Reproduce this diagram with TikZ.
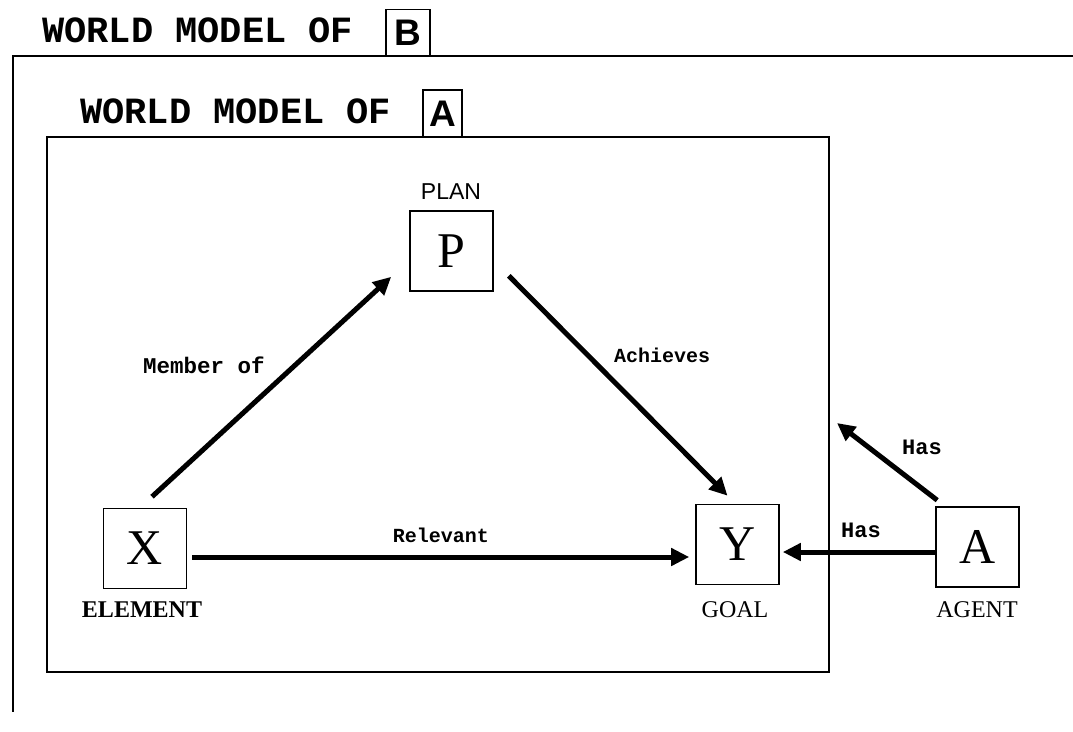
\documentclass[tikz,border=0pt]{standalone}
\usepackage{fontspec}
\setmainfont{Liberation Serif}
\newfontfamily\monob{Liberation Mono}
\newfontfamily\sansf{Liberation Sans}
\usetikzlibrary{arrows.meta}
\begin{document}
\begin{tikzpicture}[x=1pt,y=-1pt,
 frame/.style={line width=1.6pt},
 box/.style={draw,line width=1.6pt,minimum width=83pt,minimum height=80pt,inner sep=0pt,font=\fontsize{50}{50}\selectfont},
 hbox/.style={draw,fill=white,line width=1.6pt,minimum width=44pt,minimum height=46pt,inner sep=0pt,font=\sansf\bfseries\fontsize{37}{37}\selectfont},
 title/.style={font=\monob\bfseries\fontsize{37}{37}\selectfont,inner sep=0pt,anchor=base west},
 capb/.style={font=\bfseries\fontsize{24}{24}\selectfont,inner sep=0pt},
 capr/.style={font=\fontsize{24}{24}\selectfont,inner sep=0pt},
 lbl/.style={font=\monob\bfseries\fontsize{20}{20}\selectfont,inner sep=0pt},
 arr/.style={line width=5pt,-{Triangle[length=18pt,width=17pt]}}]
\useasboundingbox (0,0) rectangle (1073,731);
% outer frame (world model of B)
\draw[frame] (1073,56) -- (13,56) -- (13,712);
\node[title] (tB) at (42,42) {WORLD MODEL OF};
\node[hbox,minimum height=46pt] (hB) at (408,32.5) {B};
% inner frame (world model of A)
\draw[frame] (47,137) rectangle (829,672);
\node[title] (tA) at (80,123) {WORLD MODEL OF};
\node[hbox,minimum width=39pt,minimum height=47pt] (hA) at (442.5,113.5) {A};
% nodes
\node[box] (P) at (451.5,251) {P};
\node[box] (X) at (145,548.5) {X};
\node[box] (Y) at (737.5,544.5) {Y};
\node[box] (A) at (977.5,547) {A};
\node[font=\sansf\fontsize{23}{23}\selectfont,inner sep=0pt] (lP) at (451,192) {PLAN};
\node[capb] (lX) at (142,610) {ELEMENT};
\node[capr] (lY) at (735,610) {GOAL};
\node[capr] (lA) at (977,610) {AGENT};
\coordinate (hasend) at (837,423);
% connectors
\draw[arr] ([xshift=7pt,yshift=11pt]X.north) -- ([xshift=-18pt,yshift=15pt]P.south west);
\draw[arr] ([xshift=15pt,yshift=16pt]P.south east) -- ([xshift=-10pt,yshift=8pt]Y.north);
\draw[arr] ([xshift=5pt,yshift=-8.5pt]X.east) -- ([xshift=-6pt,yshift=-12.5pt]Y.west);
\draw[arr] ([yshift=-5pt]A.west) -- ([xshift=3pt,yshift=-7.5pt]Y.east);
\draw[arr] ([xshift=2pt,yshift=6pt]A.north west) -- (hasend);
% labels
\node[lbl,font=\monob\bfseries\fontsize{22.5}{22.5}\selectfont] (m1) at (204,365) {Member of};
\node[lbl] (m2) at (662,355) {Achieves};
\node[lbl] (m3) at (441,535) {Relevant};
\node[lbl,font=\monob\bfseries\fontsize{22}{22}\selectfont] (m4) at (861,530) {Has};
\node[lbl,font=\monob\bfseries\fontsize{22}{22}\selectfont] (m5) at (922,447) {Has};
\end{tikzpicture}
\end{document}
